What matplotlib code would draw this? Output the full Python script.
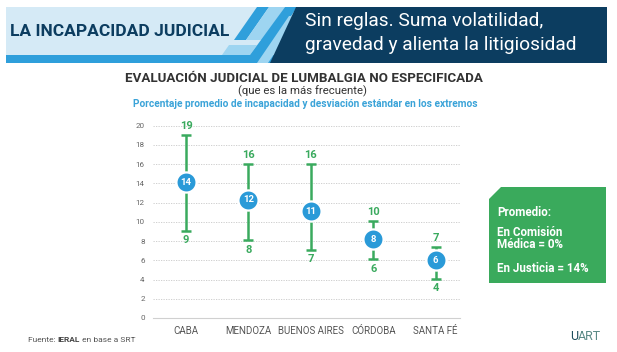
import matplotlib
matplotlib.use("Agg")
import matplotlib.pyplot as plt
from matplotlib.patches import Polygon

plt.rcParams['font.family'] = ['Roboto', 'DejaVu Sans']

categories = ["CABA", "MENDOZA", "BUENOS AIRES", "CÓRDOBA", "SANTA FÉ"]
mean_vals = [14.1, 12.3, 11.1, 8.2, 6.0]
high_vals = [19.0, 16.0, 16.0, 10.1, 7.4]
low_vals = [9.1, 8.1, 7.1, 6.1, 4.1]
mean_labels = ["14", "12", "11", "8", "6"]
high_labels = ["19", "16", "16", "10", "7"]
low_labels = ["9", "8", "7", "6", "4"]
y_ticks = [0, 2, 4, 6, 8, 10, 12, 14, 16, 18, 20]

W, H = 617, 352
fig = plt.figure(figsize=(W / 100, H / 100), dpi=100)
fig.patch.set_facecolor("white")


def P(x, y):
    return (x / W, 1 - y / H)


def poly(pts, color, z=1):
    fig.patches.append(Polygon([P(*p) for p in pts], closed=True, transform=fig.transFigure,
                               facecolor=color, edgecolor="none", zorder=z))


# Banner
navy = "#0c3d60"
midblue = "#2f9fdb"
lightband = "#d5eaf6"
paleblue = "#9ed5f1"
poly([(6, 7), (300, 7), (300, 55), (6, 55)], lightband, 1)
poly([(6, 55), (280, 55), (280, 63), (6, 63)], midblue, 1)
poly([(234, 40), (246, 40), (269, 7), (257, 7)], midblue, 2)
poly([(246, 40), (262, 40), (285, 7), (269, 7)], paleblue, 2)
poly([(222, 55), (250, 55), (257, 45), (229, 45)], paleblue, 2)
poly([(250, 55), (266, 55), (297, 7), (285, 7)], midblue, 2)
poly([(257, 63), (268, 63), (300, 16), (289, 16)], paleblue, 2)
poly([(296, 7), (607, 7), (607, 63), (270, 63)], navy, 3)

fig.text(*P(10, 32), "LA INCAPACIDAD JUDICIAL", fontsize=12.5, fontweight="bold",
         color=navy, ha="left", va="center", zorder=5)
fig.text(*P(305, 21), "Sin reglas. Suma volatilidad,", fontsize=13.8, color="white",
         ha="left", va="center", zorder=5)
fig.text(*P(305, 45), "gravedad y alienta la litigiosidad", fontsize=13.8, color="white",
         ha="left", va="center", zorder=5)

# Titles
fig.text(*P(304, 78), "EVALUACIÓN JUDICIAL DE LUMBALGIA NO ESPECIFICADA", fontsize=9.6,
         fontweight="bold", color="#333333", ha="center", va="center")
fig.text(*P(303, 91), "(que es la más frecuente)", fontsize=8.2, color="#333333",
         ha="center", va="center")
fig.text(*P(305, 104), "Porcentaje promedio de incapacidad y desviación estándar en los extremos",
         fontsize=7.3, fontweight="bold", color="#3aa3d8", ha="center", va="center")

# Axes
ax = fig.add_axes([153 / W, 34 / H, 307 / W, 192.3 / H])
ax.set_facecolor("none")
ax.set_xlim(-0.53, 4.39)
ax.set_ylim(0, 20)
ax.set_yticks(y_ticks)
ax.set_yticklabels([str(t) for t in y_ticks], fontsize=5.8, color="#666666")
ax.set_xticks(range(len(categories)))
ax.set_xticklabels(categories, fontsize=7, color="#555555")
ax.tick_params(axis="both", length=0)
ax.tick_params(axis="y", pad=6)
ax.tick_params(axis="x", pad=6)
for s in ["left", "right", "top"]:
    ax.spines[s].set_visible(False)
ax.spines["bottom"].set_color("#d0d0d0")
ax.spines["bottom"].set_linewidth(0.8)
for t in y_ticks[1:]:
    ax.axhline(t, color="#c8c8c8", lw=0.6, linestyle=(0, (1.5, 1.5)), zorder=0)

green = "#3aaa5e"
blue = "#2a9ad8"
xs = list(range(len(categories)))
ax.vlines(xs, low_vals, high_vals, color=green, lw=1.8, zorder=2)
ax.hlines(high_vals, [x - 0.08 for x in xs], [x + 0.08 for x in xs], color=green, lw=1.8, zorder=2)
ax.hlines(low_vals, [x - 0.08 for x in xs], [x + 0.08 for x in xs], color=green, lw=1.8, zorder=2)
ax.plot(xs, mean_vals, "o", ms=14.5, color=blue, mec="white", mew=1.6, zorder=3, linestyle="none")
for x, m, ml, h, hl, l, ll in zip(xs, mean_vals, mean_labels, high_vals, high_labels, low_vals, low_labels):
    ax.text(x, m, ml, ha="center", va="center", fontsize=6.8, fontweight="bold", color="white", zorder=4)
    ax.annotate(hl, (x, h), xytext=(0, 6.5), textcoords="offset points", ha="center", va="center",
                fontsize=8, fontweight="bold", color=green)
    ax.annotate(ll, (x, l), xytext=(0, -7), textcoords="offset points", ha="center", va="center",
                fontsize=8, fontweight="bold", color=green)

# Green box
poly([(501, 187), (606, 187), (606, 283), (489, 283), (489, 199)], "#3aaa5c", 2)
box_lines = [(212, "Promedio:"), (233, "En Comisión"), (245, "Médica = 0%"), (269, "En Justicia = 14%")]
for yy, txt in box_lines:
    fig.text(*P(497, yy), txt, fontsize=8.4, fontweight="bold", color="white",
             ha="left", va="center", zorder=5)

# Footer
t1 = fig.text(*P(28, 340), "Fuente: ", fontsize=6, color="#555555", ha="left", va="center")
fig.canvas.draw()
r = fig.canvas.get_renderer()
bb = t1.get_window_extent(r)
t2 = fig.text(bb.x1 / W, 1 - 340 / H, "IERAL", fontsize=6, fontweight="bold", color="#444444",
              ha="left", va="center")
bb2 = t2.get_window_extent(r)
fig.text(bb2.x1 / W, 1 - 340 / H, " en base a SRT", fontsize=6, color="#555555",
         ha="left", va="center")
u = fig.text(*P(570, 337), "U", fontsize=9, color="#1c4d5c", ha="left", va="center")
bbu = u.get_window_extent(r)
fig.text(bbu.x1 / W, 1 - 337 / H, "ART", fontsize=9, color="#5b8a86", ha="left", va="center")

fig.savefig("out.png", dpi=100)
